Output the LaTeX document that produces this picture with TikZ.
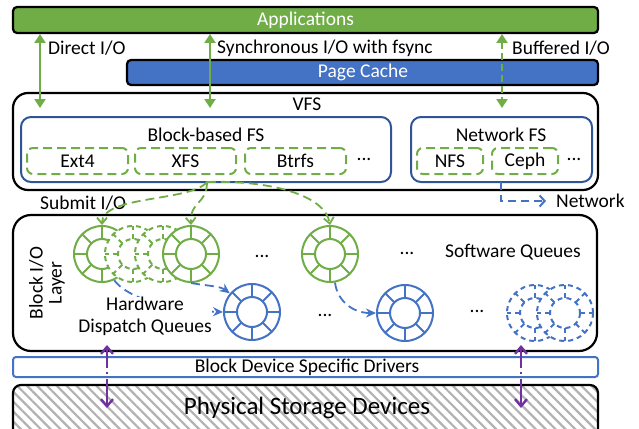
\documentclass[tikz,border=0pt]{standalone}
\usepackage{fontspec}
\setmainfont{Carlito}
\usetikzlibrary{arrows.meta,patterns.meta,fit}
\definecolor{cgreen}{HTML}{70AD47}
\definecolor{cblue}{HTML}{4472C4}
\definecolor{cdblue}{HTML}{2F5597}
\definecolor{cpurple}{HTML}{7030A0}
\newcommand{\QRing}[4]{%
  \node[ringnode, draw=#3, #4] (#1) at (#2) {};
  \draw[#3, line width=2pt, #4] (#1.center) circle (15);
  \foreach \aa in {0,45,...,315} \draw[#3, line width=2pt, #4] (#1.center) ++(\aa:15) -- ++(\aa:13);
}
\begin{document}
\begin{tikzpicture}[x=1pt,y=-1pt,
  font=\fontsize{19.5pt}{22pt}\selectfont,
  frame/.style={draw=black, line width=2.2pt, inner sep=0pt},
  fsbox/.style={draw=cdblue, line width=2pt, inner sep=0pt, rounded corners=10pt},
  fsdash/.style={draw=cgreen, line width=2pt, inner sep=0pt, rounded corners=6pt, dash pattern=on 9pt off 5pt},
  txt/.style={inner sep=0pt},
  ringnode/.style={circle, fill=white, line width=2pt, minimum size=56pt, inner sep=0pt},
  dashring/.style={dash pattern=on 5pt off 4pt},
  iogreen/.style={draw=cgreen, line width=2.2pt, {Triangle[length=9pt,width=11pt]}-{Triangle[length=9pt,width=11pt]}},
  submit/.style={draw=cgreen, line width=1.8pt, dash pattern=on 9pt off 5pt, -{Straight Barb[length=6pt,width=10pt]}},
  dispatch/.style={draw=cblue, line width=1.8pt, dash pattern=on 9pt off 5pt, -{Stealth[length=10pt,width=9pt]}},
  devarrow/.style={draw=cpurple, line width=2.4pt, dash pattern=on 20pt off 4pt on 2pt off 5pt on 60pt,
    {Straight Barb[length=7pt,width=12pt]}-{Straight Barb[length=7pt,width=12pt]}}
]
\useasboundingbox (0,0) rectangle (639,428);
\clip (0,0) rectangle (639,428);

% Applications and page cache
\node[frame, fill=cgreen, rounded corners=4pt, fit={(13,7)(598,33)}] (app) {};
\node[txt, text=white] (apptxt) at (305.5,20) {Applications};
\node[frame, fill=cblue, rounded corners=4pt, fit={(127,60)(598,85)}] (pc) {};
\node[txt, text=white] (pctxt) at (363,72.5) {Page Cache};

% VFS
\node[frame, rounded corners=15pt, fit={(13,93)(598,190)}] (vfs) {};
\node[txt] (vfstxt) at (307,104) {VFS};
\node[fsbox, fit={(21,117)(391,182)}] (bfs) {};
\node[txt] (bfstxt) at (206,135) {Block-based FS};
\node[fsdash, fit={(27,148)(128,174)}] (ext4) {};
\node[txt] at (ext4.center) {Ext4};
\node[fsdash, fit={(135,148)(236,174)}] (xfs) {};
\node[txt] at (xfs.center) {XFS};
\node[fsdash, fit={(245,148)(346,174)}] (btrfs) {};
\node[txt] at (btrfs.center) {Btrfs};
\node[txt] (dots1) at (364,159) {...};
\node[fsbox, fit={(411,117)(592,182)}] (nfsbox) {};
\node[txt] (nfstxt) at (501,135) {Network FS};
\node[fsdash, fit={(417,148)(483,174)}] (nfs) {};
\node[txt] at (nfs.center) {NFS};
\node[fsdash, fit={(492,148)(558,174)}] (ceph) {};
\node[txt] at (ceph.center) {Ceph};
\node[txt] (dots2) at (574,159) {...};

% I/O paths
\node[txt, anchor=west] (ldirect) at (48,48) {Direct I/O};
\node[txt, anchor=west] (lsync) at (217,48) {Synchronous I/O with fsync};
\node[txt, anchor=west] (lbuf) at (512,48) {Buffered I/O};
\coordinate (d1) at (40,34); \coordinate (d2) at (40,108);
\coordinate (s1) at (210,34); \coordinate (s2) at (210,108);
\coordinate (b1) at (502,34); \coordinate (b2) at (502,108);
\draw[iogreen] (d1) -- (d2);
\draw[iogreen] (s1) -- (s2);
\draw[iogreen, dash pattern=on 7pt off 4pt] (b1) -- (b2);

% Network
\node[txt, anchor=west] (lnet) at (556,201) {Network};
\coordinate (nstart) at (501,182);
\coordinate (ntip) at (546,201);
\draw[draw=cblue, line width=2pt, dash pattern=on 8pt off 5pt, -{Straight Barb[length=5pt,width=11pt]}] (nstart) |- (ntip);

% Block I/O layer
\node[frame, rounded corners=18pt, fit={(13,215)(597,351)}] (blk) {};
\node[txt, rotate=90, align=center, font=\fontsize{19.5pt}{19pt}\selectfont] (blktxt) at (47,283) {Block I/O\\Layer};
\node[txt] (swq) at (513,252) {Software Queues};

\QRing{r1}{102,254}{cgreen}{}
\QRing{g1}{133,254}{cgreen}{dashring}
\QRing{g2}{163,254}{cgreen}{dashring}
\QRing{r2}{191,254}{cgreen}{}
\QRing{r3}{330,254}{cgreen}{}
\node[txt] (dots3) at (262,256) {...};
\node[txt] (dots4) at (407,253) {...};

\QRing{bA}{252,312}{cblue}{}
\QRing{bB}{405,313}{cblue}{}
\QRing{bd1}{535,313}{cblue}{dashring}
\QRing{bd2}{565,313}{cblue}{dashring}
\node[txt] (dots5) at (325,315) {...};
\node[txt] (dots6) at (477,311) {...};

% submit I/O
\node[txt, anchor=west] (lsub) at (40,203) {Submit I/O};
\coordinate (xs) at (207,182);
\draw[submit] (xs) .. controls (190,202) and (102,195) .. (r1.north);
\draw[submit] (xs) .. controls (207,205) and (190,200) .. (r2.north);
\draw[submit] (xs) .. controls (270,180) and (325,195) .. (r3.north);

% dispatch
\draw[dispatch] (r1.-65) .. controls (125,295) and (160,310) .. (bA.west);
\draw[dispatch] (r2.-90) .. controls (208,286) and (220,286) .. (bA.140);
\draw[dispatch] (r3.-80) .. controls (337,300) and (352,313) .. (bB.west);
\node[txt, fill=white, align=center, font=\fontsize{19.5pt}{22pt}\selectfont] (hwq) at (145,316) {Hardware\\Dispatch Queues};

% drivers and devices
\node[draw=cblue, line width=2pt, inner sep=0pt, rounded corners=3pt, fill=white, fit={(13,357)(598,377)}] (drv) {};
\node[txt] (drvtxt) at (307,367) {Block Device Specific Drivers};
\node[frame, rounded corners=8pt, pattern={Lines[angle=-45,distance=7pt,line width=2.2pt]}, pattern color=gray!60, fit={(13,385)(598,445)}] (dev) {};
\node[txt, font=\fontsize{25pt}{28pt}\selectfont] (devtxt) at (307,408) {Physical Storage Devices};

\coordinate (p1a) at (107,345); \coordinate (p1b) at (107,408);
\coordinate (p2a) at (521,345); \coordinate (p2b) at (521,408);
\draw[devarrow] (p1a) -- (p1b);
\draw[devarrow] (p2a) -- (p2b);
\end{tikzpicture}
\end{document}
